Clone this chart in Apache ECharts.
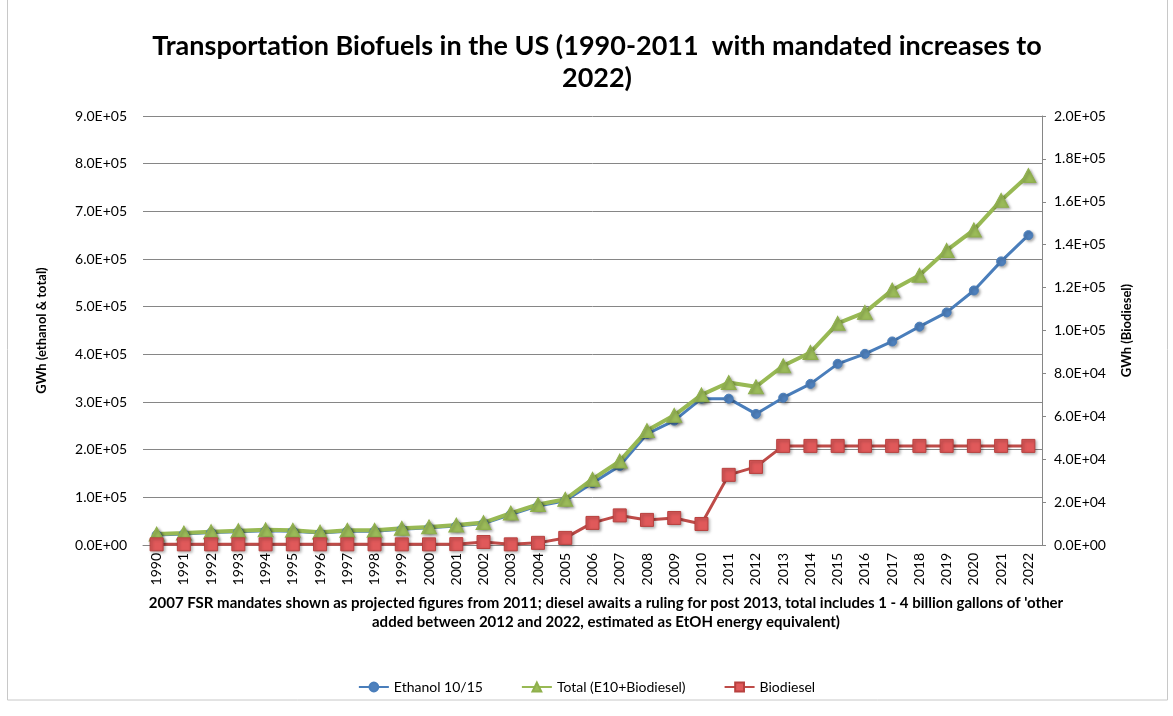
<!DOCTYPE html>
<html>
<head>
<meta charset="utf-8">
<script src="https://cdn.jsdelivr.net/npm/echarts@6/dist/echarts.min.js"></script>
<style>
html,body{margin:0;padding:0;background:#fff;}
#chart{width:1173px;height:716px;}
</style>
</head>
<body>
<div id="chart"></div>
<script>
var years = ['1990','1991','1992','1993','1994','1995','1996','1997','1998','1999','2000','2001','2002','2003','2004','2005','2006','2007','2008','2009','2010','2011','2012','2013','2014','2015','2016','2017','2018','2019','2020','2021','2022'];
var ethanol = [21000,23000,26000,28000,30000,29000,25000,29000,29000,33000,36000,40000,45000,64000,82000,93000,130000,166000,233000,261000,307000,307000,275000,309000,338000,380000,401000,427000,458000,488000,534000,595000,650000];
var total = [23000,25000,28000,30000,32000,31000,27000,31000,31000,35000,38000,42000,47000,67000,85000,96000,138000,176000,240000,272000,315000,341000,332000,376000,404000,465000,488000,535000,566000,618000,661000,723000,775000];
var biodiesel = [300,300,300,300,300,300,300,300,300,300,300,400,1400,300,1000,3300,10300,13800,11700,12600,9800,32700,36400,46200,46200,46200,46200,46200,46200,46200,46200,46200,46200];
var seriesNames = ['Ethanol 10/15','Total (E10+Biodiesel)','Biodiesel'];
var titleText = 'Transportation Biofuels in the US (1990-2011  with mandated increases to\n2022)';
var noteLine1 = "2007 FSR mandates shown as projected figures from 2011; diesel awaits a ruling for post 2013, total includes 1 - 4 billion gallons of 'other";
var noteLine2 = 'added between 2012 and 2022, estimated as EtOH energy equivalent)';

var FONT = 'Lato, "Open Sans", sans-serif';
function sci(v){
  if (v === 0) return '0.0E+00';
  var s = v.toExponential(1).toUpperCase();
  var parts = s.split('E');
  var e = parseInt(parts[1],10);
  var sign = e < 0 ? '-' : '+';
  var ae = Math.abs(e);
  return parts[0] + 'E' + sign + (ae < 10 ? '0' + ae : ae);
}
var chart = echarts.init(document.getElementById('chart'));
var shadow = {shadowBlur:3, shadowColor:'rgba(0,0,0,0.35)', shadowOffsetX:1.5, shadowOffsetY:1.5};
chart.setOption({
  animation:false,
  backgroundColor:'#fff',
  title:{
    text:titleText, left:592, top:25, textAlign:'center',
    textStyle:{fontFamily:FONT, fontSize:27, fontWeight:'bold', color:'#000', lineHeight:32}
  },
  graphic:[
    {type:'rect', shape:{x:7.5,y:-2,width:1160,height:702}, style:{fill:'none', stroke:'#c8c8c8', lineWidth:1}, silent:true},
    {type:'text', x:606, y:603, style:{text:noteLine1, font:'bold 15px ' + FONT, fill:'#000', textAlign:'center', textVerticalAlign:'middle'}},
    {type:'text', x:606, y:622, style:{text:noteLine2, font:'bold 15px ' + FONT, fill:'#000', textAlign:'center', textVerticalAlign:'middle'}}
  ],
  legend:{
    bottom:17, left:'center', itemGap:38, itemWidth:30, itemHeight:11,
    textStyle:{fontFamily:FONT, fontSize:14, color:'#000'},
    data:seriesNames
  },
  grid:{left:143, right:131, top:116, bottom:171},
  xAxis:{
    type:'category', data:years, boundaryGap:true,
    axisLine:{lineStyle:{color:'#868686'}},
    axisTick:{show:false},
    axisLabel:{rotate:90, fontFamily:FONT, fontSize:14, color:'#000', margin:8, interval:0}
  },
  yAxis:[
    {type:'value', min:0, max:900000, interval:100000,
     name:'GWh (ethanol & total)', nameLocation:'middle', nameGap:95, nameRotate:90,
     nameTextStyle:{fontFamily:FONT, fontSize:13, fontWeight:'bold', color:'#000'},
     axisLine:{show:false}, axisTick:{show:false},
     splitLine:{lineStyle:{color:'#868686', width:1}},
     axisLabel:{formatter:sci, fontFamily:FONT, fontSize:14, color:'#000', margin:16}},
    {type:'value', min:0, max:200000, interval:20000, position:'right',
     name:'GWh (Biodiesel)', nameLocation:'middle', nameGap:78, nameRotate:90,
     nameTextStyle:{fontFamily:FONT, fontSize:13, fontWeight:'bold', color:'#000'},
     axisLine:{show:true, lineStyle:{color:'#868686'}},
     axisTick:{show:true, length:4, lineStyle:{color:'#868686'}},
     splitLine:{show:false},
     axisLabel:{formatter:sci, fontFamily:FONT, fontSize:14, color:'#000', margin:12}}
  ],
  series:[
    {name:seriesNames[0], type:'line', data:ethanol, yAxisIndex:0,
     symbol:'circle', symbolSize:9,
     lineStyle:{color:'#4A7EBB', width:3},
     itemStyle:Object.assign({color:'#4F81BD', borderColor:'#4A7EBB', borderWidth:1}, shadow)},
    {name:seriesNames[1], type:'line', data:total, yAxisIndex:0,
     symbol:'triangle', symbolSize:[15,14],
     lineStyle:{color:'#98B954', width:4},
     itemStyle:Object.assign({color:'#9BBB59', borderColor:'#8FB04C', borderWidth:1}, shadow)},
    {name:seriesNames[2], type:'line', data:biodiesel, yAxisIndex:1,
     symbol:'rect', symbolSize:13,
     lineStyle:{color:'#BE4B48', width:3},
     itemStyle:Object.assign({color:'#E0595A', borderColor:'#B8413F', borderWidth:1}, shadow)}
  ]
});
</script>
</body>
</html>
